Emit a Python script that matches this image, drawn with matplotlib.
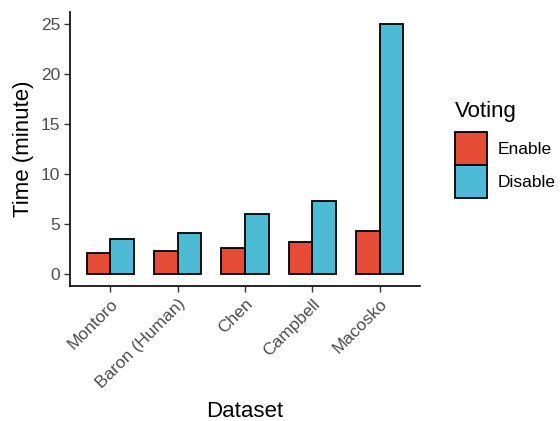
import numpy as np
import matplotlib.pyplot as plt
from matplotlib.patches import Patch

plt.rcParams['font.family'] = ['Liberation Sans', 'DejaVu Sans']

datasets = ['Montoro', 'Baron (Human)', 'Chen', 'Campbell', 'Macosko']
enable = [2.1, 2.3, 2.65, 3.25, 4.35]
disable = [3.5, 4.15, 6.05, 7.3, 25.0]
groups = ['Enable', 'Disable']
colors = ['#E64B35', '#4DBBD5']

fig = plt.figure(figsize=(5.6, 4.21), dpi=100)
ax = fig.add_axes([0.125, 0.3195, 0.625, 0.652])

x = np.arange(len(datasets))
w = 0.35
ax.bar(x - w / 2, enable, w, color=colors[0], edgecolor='black', linewidth=1.3, zorder=2)
ax.bar(x + w / 2, disable, w, color=colors[1], edgecolor='black', linewidth=1.3, zorder=2)

ax.set_xlim(-0.6, len(datasets) - 0.4)
ax.set_ylim(-1.25, 26.25)
ax.set_yticks([0, 5, 10, 15, 20, 25])
ax.set_xticks(x)
ax.set_xticklabels(datasets, rotation=45, ha='right', rotation_mode='anchor')

for s in ['top', 'right']:
    ax.spines[s].set_visible(False)
for s in ['left', 'bottom']:
    ax.spines[s].set_linewidth(1.2)
ax.tick_params(axis='both', length=4, width=1.0, color='#333333',
               labelsize=12.5, labelcolor='#4D4D4D')
ax.tick_params(axis='x', pad=3)
ax.tick_params(axis='y', pad=3)

ax.set_ylabel('Time (minute)', fontsize=16, labelpad=5)
ax.set_xlabel('Dataset', fontsize=16, labelpad=7)

handles = [Patch(facecolor=c, edgecolor='black', linewidth=1.3, label=g) for c, g in zip(colors, groups)]
leg = fig.legend(handles=handles, title='Voting', loc='upper left', bbox_to_anchor=(0.812, 0.76),
                 frameon=False, fontsize=12.5, title_fontsize=16, handlelength=1.85, handleheight=2.55,
                 labelspacing=0.0, handletextpad=0.65, borderaxespad=0, borderpad=0)
leg._legend_box.align = 'left'
leg._legend_box.sep = 7

fig.savefig('out.png', dpi=100)
